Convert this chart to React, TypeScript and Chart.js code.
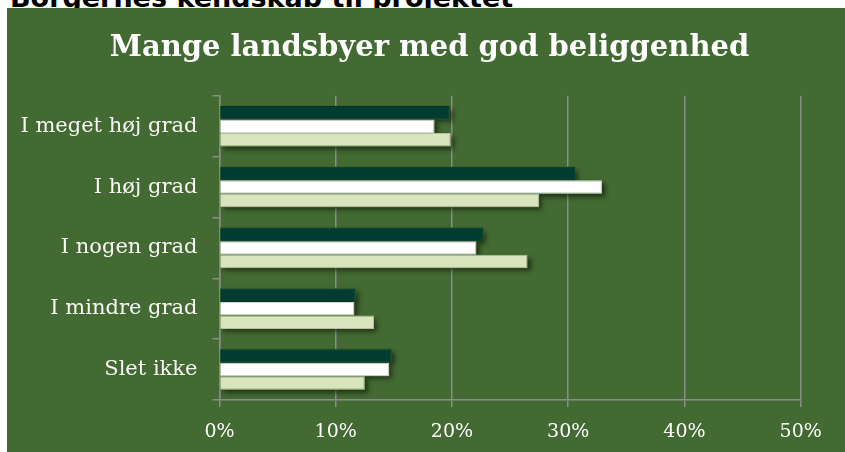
import React, { useEffect, useRef } from "react";
import { Chart, registerables } from "chart.js";

Chart.register(...registerables);

const heading = "Borgernes kendskab til projektet";
const chartTitle = "Mange landsbyer med god beliggenhed";
const categories = ["I meget høj grad", "I høj grad", "I nogen grad", "I mindre grad", "Slet ikke"];
const seriesNames = ["Serie 1", "Serie 2", "Serie 3"];
const series1 = [19.8, 30.6, 22.7, 11.7, 14.8];
const series2 = [18.5, 32.9, 22.1, 11.6, 14.6];
const series3 = [19.9, 27.5, 26.5, 13.3, 12.5];
const xMin = 0;
const xMax = 50;
const xStep = 10;

const BG = "#436a32";
const GRID = "#8c8c8c";

const shadowPlugin = {
  id: "barShadow",
  beforeDatasetsDraw(chart: any) {
    const ctx = chart.ctx;
    ctx.save();
    ctx.shadowColor = "rgba(0,0,0,0.55)";
    ctx.shadowBlur = 5;
    ctx.shadowOffsetX = 3;
    ctx.shadowOffsetY = 3;
    ctx.fillStyle = BG;
    chart.data.datasets.forEach((_ds: any, i: number) => {
      const meta = chart.getDatasetMeta(i);
      meta.data.forEach((el: any) => {
        const p = el.getProps(["x", "y", "base", "height"], true);
        ctx.fillRect(Math.min(p.base, p.x), p.y - p.height / 2, Math.abs(p.x - p.base), p.height);
      });
    });
    ctx.restore();
  },
};

export default function App() {
  const ref = useRef<HTMLCanvasElement | null>(null);

  useEffect(() => {
    if (!ref.current) return;
    const chart = new Chart(ref.current, {
      type: "bar",
      data: {
        labels: categories,
        datasets: [
          {
            label: seriesNames[0],
            data: series1,
            backgroundColor: "#003c30",
            borderColor: "#00342a",
            borderWidth: 1,
            categoryPercentage: 0.667,
            barPercentage: 1,
          },
          {
            label: seriesNames[1],
            data: series2,
            backgroundColor: "#ffffff",
            borderColor: "#d9d9d9",
            borderWidth: 1,
            categoryPercentage: 0.667,
            barPercentage: 1,
          },
          {
            label: seriesNames[2],
            data: series3,
            backgroundColor: "#d8e4bc",
            borderColor: "#b5c196",
            borderWidth: 1,
            categoryPercentage: 0.667,
            barPercentage: 1,
          },
        ],
      },
      options: {
        indexAxis: "y",
        animation: false,
        responsive: false,
        maintainAspectRatio: false,
        layout: { padding: { left: 7, right: 0, top: 0, bottom: 0 } },
        plugins: {
          legend: { display: false },
          tooltip: { enabled: false },
          title: {
            display: true,
            text: chartTitle,
            color: "#ffffff",
            font: { family: "'DejaVu Serif', serif", size: 29, weight: "bold", lineHeight: 1.2 },
            padding: { top: 23, bottom: 30 },
          },
        },
        scales: {
          x: {
            type: "linear",
            min: xMin,
            max: xMax,
            ticks: {
              stepSize: xStep,
              color: "#ffffff",
              padding: 14,
              font: { family: "'DejaVu Serif', serif", size: 19 },
              callback: (v: any) => v + "%",
            },
            grid: { color: GRID, lineWidth: 1.5, tickLength: 7, drawTicks: true },
            border: { display: true, color: GRID, width: 1.5 },
            afterFit: (scale: any) => {
              scale.height = 52;
              scale.paddingLeft = 0;
              scale.paddingRight = 44.3;
            },
          },
          y: {
            type: "category",
            offset: true,
            ticks: {
              color: "#f8f8f4",
              padding: 15,
              font: { family: "'DejaVu Serif', serif", size: 21 },
            },
            grid: { offset: true, drawOnChartArea: false, drawTicks: true, tickLength: 7, color: GRID, lineWidth: 1.5 },
            border: { display: true, color: GRID, width: 1.5 },
            afterFit: (scale: any) => {
              scale.width = 205.5;
              scale.paddingTop = 0;
              scale.paddingBottom = 0;
            },
          },
        },
      },
      plugins: [shadowPlugin],
    });
    return () => chart.destroy();
  }, []);

  return (
    <div style={{ position: "fixed", left: 0, top: 0, width: 845, height: 452, overflow: "hidden", background: "#ffffff" }}>
      <div
        style={{
          position: "absolute",
          left: 10,
          top: -16,
          whiteSpace: "nowrap",
          fontFamily: "'DejaVu Sans', sans-serif",
          fontWeight: "bold",
          fontSize: 27,
          lineHeight: "27px",
          color: "#000000",
        }}
      >
        {heading}
      </div>
      <div style={{ position: "absolute", left: 7, top: 8, width: 838, height: 444, background: BG }}>
        <canvas ref={ref} width={838} height={444} style={{ display: "block" }} />
      </div>
    </div>
  );
}
